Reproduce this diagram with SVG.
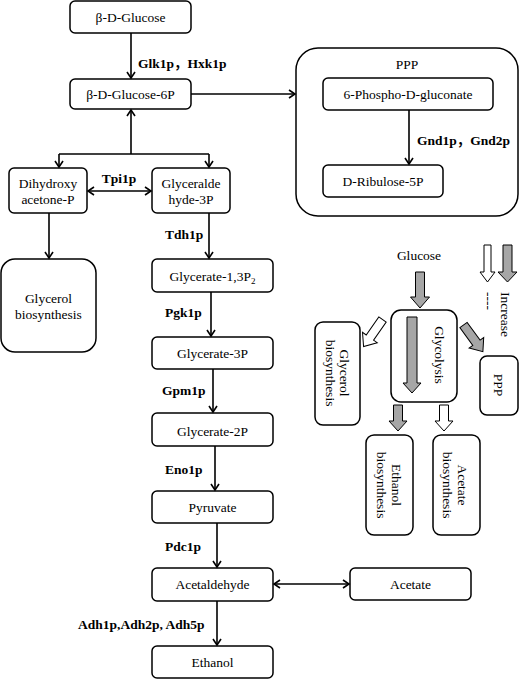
<svg xmlns="http://www.w3.org/2000/svg" width="520" height="679" viewBox="0 0 520 679">
<defs>
<marker id="ah" markerUnits="userSpaceOnUse" viewBox="-8 -5 10 10" refX="0" refY="0" markerWidth="10" markerHeight="10" orient="auto-start-reverse">
<path d="M-6,-4 L0,0 L-6,4" fill="none" stroke="#000" stroke-width="1.6"/>
</marker>
</defs>
<style>
.b{fill:#fff;stroke:#000;stroke-width:1.5}
.t{font-family:'Liberation Serif','Times New Roman',serif;font-size:13.5px;fill:#000}
.c{text-anchor:middle}
.l{font-family:'Liberation Serif','Times New Roman','Noto Sans CJK SC',serif;font-size:13.5px;font-weight:bold;fill:#000}
.ln{fill:none;stroke:#000;stroke-width:1.6}
.g{fill:#a6a6a6;stroke:#000;stroke-width:1}
.w{fill:#fff;stroke:#000;stroke-width:1}
</style>
<rect width="520" height="679" fill="#fff"/>

<g id="n-glucose"><rect class="b" x="70" y="1" width="121" height="32" rx="5"/><text class="t c" x="130.5" y="22">β-D-Glucose</text></g>
<g id="n-g6p"><rect class="b" x="70" y="79" width="121" height="30" rx="5"/><text class="t c" x="130.5" y="99">β-D-Glucose-6P</text></g>
<g id="n-dhap"><rect class="b" x="9" y="168" width="78" height="45" rx="5"/><text class="t c" x="48" y="188">Dihydroxy</text><text class="t c" x="48" y="204">acetone-P</text></g>
<g id="n-g3p"><rect class="b" x="152" y="168" width="78" height="45" rx="5"/><text class="t c" x="191" y="188">Glyceralde</text><text class="t c" x="191" y="204">hyde-3P</text></g>
<g id="n-glycerol"><rect class="b" x="1" y="259" width="95" height="93" rx="14"/><text class="t c" x="48.5" y="303">Glycerol</text><text class="t c" x="48.5" y="319">biosynthesis</text></g>
<g id="n-g13p"><rect class="b" x="152" y="259" width="121" height="33" rx="5"/><text class="t c" x="212.5" y="281">Glycerate-1,3P<tspan font-size="9" dy="3">2</tspan></text></g>
<g id="n-g3pa"><rect class="b" x="152" y="337" width="121" height="32" rx="5"/><text class="t c" x="212.5" y="358">Glycerate-3P</text></g>
<g id="n-g2p"><rect class="b" x="152" y="413" width="121" height="33" rx="5"/><text class="t c" x="212.5" y="436">Glycerate-2P</text></g>
<g id="n-pyr"><rect class="b" x="152" y="491" width="121" height="32" rx="5"/><text class="t c" x="212.5" y="512">Pyruvate</text></g>
<g id="n-acald"><rect class="b" x="152" y="568" width="121" height="33" rx="5"/><text class="t c" x="212.5" y="589">Acetaldehyde</text></g>
<g id="n-acetate"><rect class="b" x="350" y="568" width="121" height="32" rx="5"/><text class="t c" x="410.5" y="589">Acetate</text></g>
<g id="n-ethanol"><rect class="b" x="152" y="646" width="121" height="32" rx="5"/><text class="t c" x="212.5" y="667">Ethanol</text></g>

<g id="n-ppp">
<rect class="b" x="296" y="48" width="222" height="168" rx="22"/>
<text class="t c" x="407" y="69">PPP</text>
</g>
<g id="n-6pg"><rect class="b" x="323" y="78" width="170" height="32" rx="5"/><text class="t c" x="408" y="99">6-Phospho-D-gluconate</text></g>
<g id="n-ru5p"><rect class="b" x="323" y="165" width="120" height="32" rx="5"/><text class="t c" x="383" y="186">D-Ribulose-5P</text></g>

<g id="inset">
<text class="t c" x="419" y="260">Glucose</text>
<polygon class="g" points="415.5,272 424.5,272 424.5,297 429.5,297 420,308 410.5,297 415.5,297"/>
<g id="n-glycolysis">
<rect class="b" x="391" y="310" width="66" height="92" rx="10"/>
<polygon class="g" points="407,317 417,317 417,383 421,383 412,393 403,383 407,383"/>
<text class="t c" transform="translate(440,355) rotate(90)" y="5">Glycolysis</text>
</g>
<polygon class="w" transform="translate(382.5,319.5) rotate(35)" points="-4.5,0 4.5,0 4.5,22 9,22 0,33 -9,22 -4.5,22"/>
<polygon class="g" transform="translate(463.5,325) rotate(-36)" points="-4.5,0 4.5,0 4.5,22 9,22 0,33 -9,22 -4.5,22"/>
<g id="n-i-glycerol">
<rect class="b" x="315" y="322" width="45" height="103" rx="8"/>
<text class="t c" transform="translate(344.5,373) rotate(90)" y="5">Glycerol</text>
<text class="t c" transform="translate(330.5,373) rotate(90)" y="5">biosynthesis</text>
</g>
<g id="n-i-ppp">
<rect class="b" x="480" y="356" width="38" height="59" rx="7"/>
<text class="t c" transform="translate(499,385) rotate(90)" y="5">PPP</text>
</g>
<polygon class="g" points="393.5,405 402.5,405 402.5,421 407,421 398,431 389,421 393.5,421"/>
<polygon class="w" points="439.5,405 448.5,405 448.5,421 453,421 444,431 435,421 439.5,421"/>
<g id="n-i-ethanol">
<rect class="b" x="366" y="435" width="47" height="100" rx="8"/>
<text class="t c" transform="translate(396.5,485) rotate(90)" y="5">Ethanol</text>
<text class="t c" transform="translate(381.5,485) rotate(90)" y="5">biosynthesis</text>
</g>
<g id="n-i-acetate">
<rect class="b" x="433" y="435" width="47" height="100" rx="8"/>
<text class="t c" transform="translate(463,485) rotate(90)" y="5">Acetate</text>
<text class="t c" transform="translate(448,485) rotate(90)" y="5">biosynthesis</text>
</g>
<g id="legend">
<polygon class="w" points="484,245 491,245 491,272 495,272 487.5,282 480,272 484,272"/>
<polygon class="g" points="503,245 512,245 512,272 517,272 507.5,282 498,272 503,272"/>
<text class="t" transform="translate(487,292) rotate(90)" y="3.5">----</text>
<text class="t" transform="translate(506,292) rotate(90)" y="5">Increase</text>
</g>
</g>

<g id="connectors">
<line class="ln" x1="131" y1="33" x2="131" y2="78" marker-end="url(#ah)"/>
<line class="ln" x1="191" y1="94" x2="295" y2="94" marker-end="url(#ah)"/>
<line class="ln" x1="131" y1="154" x2="131" y2="110" marker-end="url(#ah)"/>
<line class="ln" x1="59" y1="154" x2="209" y2="154"/>
<line class="ln" x1="59" y1="154" x2="59" y2="167" marker-end="url(#ah)"/>
<line class="ln" x1="209" y1="154" x2="209" y2="167" marker-end="url(#ah)"/>
<line class="ln" x1="88" y1="191" x2="151" y2="191" marker-start="url(#ah)" marker-end="url(#ah)"/>
<line class="ln" x1="49" y1="213" x2="49" y2="258" marker-end="url(#ah)"/>
<line class="ln" x1="209" y1="213" x2="209" y2="258" marker-end="url(#ah)"/>
<line class="ln" x1="211" y1="292" x2="211" y2="336" marker-end="url(#ah)"/>
<line class="ln" x1="213" y1="369" x2="213" y2="412" marker-end="url(#ah)"/>
<line class="ln" x1="215" y1="446" x2="215" y2="490" marker-end="url(#ah)"/>
<line class="ln" x1="217" y1="523" x2="217" y2="567" marker-end="url(#ah)"/>
<line class="ln" x1="217" y1="601" x2="217" y2="645" marker-end="url(#ah)"/>
<line class="ln" x1="274" y1="584" x2="349" y2="584" marker-start="url(#ah)" marker-end="url(#ah)"/>
<line class="ln" x1="409" y1="110" x2="409" y2="164" marker-end="url(#ah)"/>
</g>

<g id="labels">
<text class="l" x="138" y="68">Glk1p，Hxk1p</text>
<text class="l" x="119" y="183" text-anchor="middle">Tpi1p</text>
<text class="l" x="165" y="239">Tdh1p</text>
<text class="l" x="165" y="317">Pgk1p</text>
<text class="l" x="162" y="395">Gpm1p</text>
<text class="l" x="165" y="474">Eno1p</text>
<text class="l" x="165" y="551">Pdc1p</text>
<text class="l" x="78" y="629">Adh1p,Adh2p, Adh5p</text>
<text class="l" x="417" y="145">Gnd1p，Gnd2p</text>
</g>
</svg>
